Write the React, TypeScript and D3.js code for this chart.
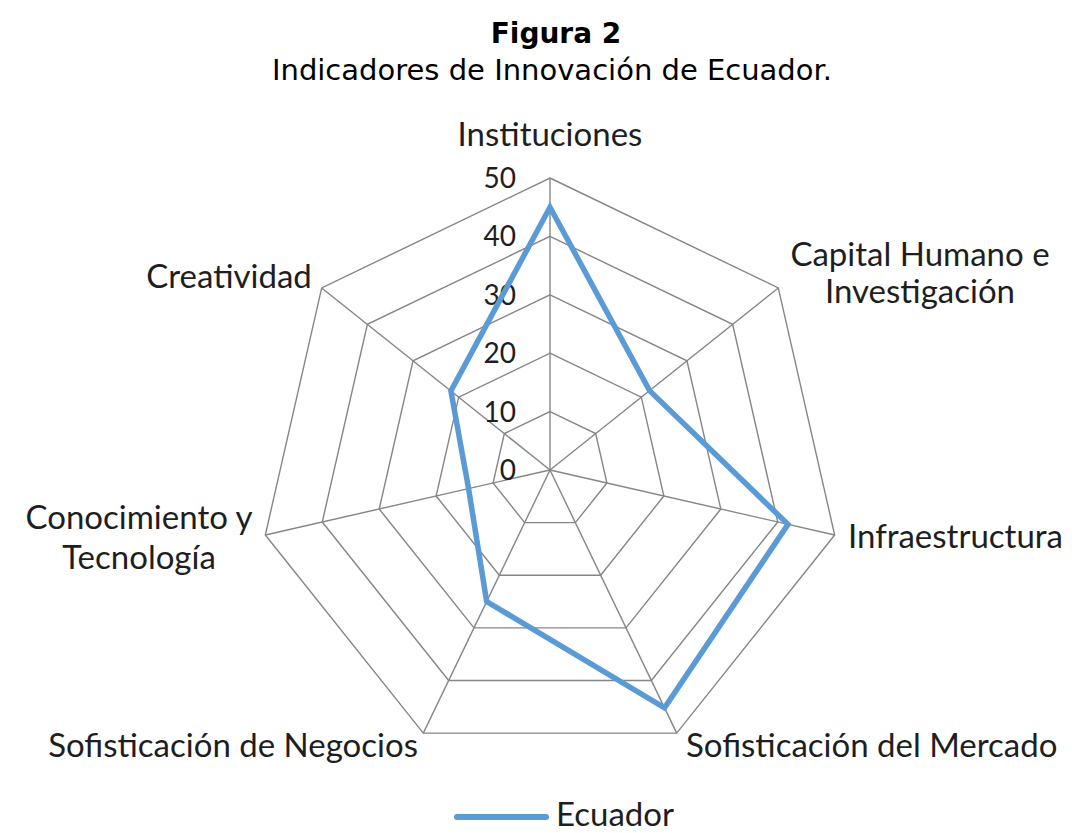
import React from "react";
import * as d3 from "d3";

const categories: string[][] = [
  ["Instituciones"],
  ["Capital Humano e", "Investigación"],
  ["Infraestructura"],
  ["Sofisticación del Mercado"],
  ["Sofisticación de Negocios"],
  ["Conocimiento y", "Tecnología"],
  ["Creatividad"],
];
const ecuadorValues: number[] = [45, 21.8, 41.8, 45.2, 25, 14.3, 21.7];
const tickValues: number[] = [0, 10, 20, 30, 40, 50];
const seriesName = "Ecuador";
const titleText = "Figura 2";
const subtitleText = "Indicadores de Innovación de Ecuador.";

const W = 1072;
const H = 833;
const cx = 550;
const cy = 470;
const R = 292;
const labelFont = "Lato, 'Open Sans', sans-serif";

export default function App() {
  const n = categories.length;
  const r = d3.scaleLinear().domain([0, 50]).range([0, R]);
  const angle = d3
    .scaleLinear()
    .domain([0, n])
    .range([0, 2 * Math.PI]);
  const pt = (i: number, v: number): [number, number] => {
    const a = angle(i);
    return [cx + r(v) * Math.sin(a), cy - r(v) * Math.cos(a)];
  };

  const ringLine = d3
    .lineRadial<number>()
    .angle((_, i) => angle(i))
    .radius((d) => r(d))
    .curve(d3.curveLinearClosed);

  const rings = tickValues.filter((t) => t > 0);

  const labelSpecs = [
    { anchor: "middle", dx: 0, dy: -324, lh: 36 },
    { anchor: "middle", dx: 370, dy: -186, lh: 37 },
    { anchor: "start", dx: 298, dy: 78, lh: 40 },
    { anchor: "start", dx: 136, dy: 287, lh: 40 },
    { anchor: "end", dx: -132, dy: 287, lh: 40 },
    { anchor: "middle", dx: -411, dy: 79, lh: 40 },
    { anchor: "middle", dx: -321, dy: -182, lh: 40 },
  ];

  return (
    <svg
      width={W}
      height={H}
      style={{ position: "absolute", left: 0, top: 0, background: "#fff" }}
    >
      <text
        x={556}
        y={43}
        textAnchor="middle"
        fontFamily="'DejaVu Sans', Verdana, sans-serif"
        fontWeight="bold"
        fontSize={28}
        fill="#000"
      >
        {titleText}
      </text>
      <text
        x={552}
        y={80}
        textAnchor="middle"
        fontFamily="'DejaVu Sans', Verdana, sans-serif"
        fontSize={29}
        fill="#000"
      >
        {subtitleText}
      </text>

      <g fill="none" stroke="#868686" strokeWidth={1.4}>
        {rings.map((t) => (
          <path
            key={t}
            d={ringLine(d3.range(n).map(() => t)) || ""}
            transform={`translate(${cx},${cy})`}
          />
        ))}
        {d3.range(n).map((i) => {
          const [x, y] = pt(i, 50);
          return <line key={i} x1={cx} y1={cy} x2={x} y2={y} />;
        })}
      </g>

      <g
        fontFamily={labelFont}
        fontSize={28}
        fill="#1e1e1e"
        textAnchor="end"
        dominantBaseline="central"
      >
        {tickValues.map((t) => (
          <text key={t} x={516} y={cy - r(t) - 1}>
            {t}
          </text>
        ))}
      </g>

      <path
        d={ringLine(ecuadorValues) || ""}
        transform={`translate(${cx},${cy})`}
        fill="none"
        stroke="#5B9BD5"
        strokeWidth={5.5}
        strokeLinejoin="miter"
      />

      <g fontFamily={labelFont} fontSize={33} fill="#1e1e1e">
        {categories.map((lines, i) => {
          const s = labelSpecs[i];
          const x = cx + s.dx;
          const y0 = cy + s.dy - ((lines.length - 1) * s.lh) / 2;
          return (
            <text key={i} textAnchor={s.anchor as any}>
              {lines.map((ln, j) => (
                <tspan key={j} x={x} y={y0 + j * s.lh}>
                  {ln}
                </tspan>
              ))}
            </text>
          );
        })}
      </g>

      <g>
        <line
          x1={457}
          x2={546}
          y1={817}
          y2={817}
          stroke="#5B9BD5"
          strokeWidth={6}
          strokeLinecap="round"
        />
        <text x={556} y={826} fontFamily={labelFont} fontSize={33} fill="#1e1e1e">
          {seriesName}
        </text>
      </g>
    </svg>
  );
}
